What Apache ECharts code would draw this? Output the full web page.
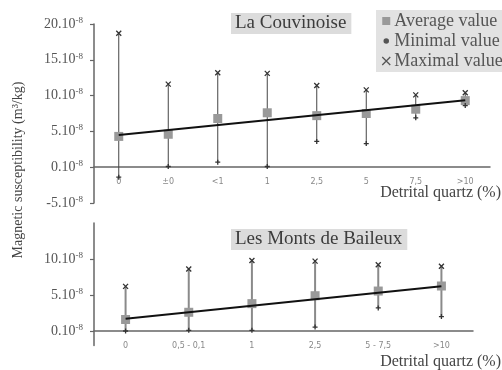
<!DOCTYPE html>
<html><head><meta charset="utf-8">
<script src="https://cdn.jsdelivr.net/npm/echarts@6/dist/echarts.min.js"></script>
<style>html,body{margin:0;padding:0;background:#fff}#c{width:502px;height:370px}</style>
</head><body><div id="c"></div>
<script>
// ---- Data (values in units of 10^-8 m3/kg) ----
const topCategories = ['0', '±0', '<1', '1', '2,5', '5', '7,5', '>10'];
const topAverage = [4.3, 4.6, 6.8, 7.6, 7.2, 7.5, 8.1, 9.3];
const topMinimal = [-1.4, 0.1, 0.7, 0.1, 3.6, 3.3, 6.9, 8.6];
const topMaximal = [18.7, 11.6, 13.2, 13.1, 11.4, 10.8, 10.1, 10.4];
const topTrend = [[0, 4.5], [7, 9.35]];

const botCategories = ['0', '0,5 - 0,1', '1', '2,5', '5 - 7,5', '>10'];
const botAverage = [1.6, 2.6, 3.8, 4.9, 5.55, 6.25];
const botMinimal = [0.0, 0.1, 0.1, 0.55, 3.2, 2.0];
const botMaximal = [6.2, 8.6, 9.8, 9.7, 9.2, 9.0];
const botTrend = [[0, 1.7], [5, 6.2]];

const topTicks = [-5, 0, 5, 10, 15, 20];
const botTicks = [0, 5, 10];

const titles = ['La Couvinoise', 'Les Monts de Baileux'];
const xName = 'Detrital quartz (%)';
const yName = 'Magnetic susceptibility (m³/kg)';
const legendNames = ['Average value', 'Minimal value', 'Maximal value'];

// ---- Chart ----
const SERIF = 'Liberation Serif';
const chart = echarts.init(document.getElementById('c'));
const crossPath = 'path://M0,0L10,10M10,0L0,10';
const plusPath = 'path://M0,5L10,5M5,0L5,10';

function yLabelFmt(v) { return '{a|' + v + '.10}{b|-8}'; }
const yRich = {
  a: { fontFamily: SERIF, fontSize: 14, color: '#555', lineHeight: 16 },
  b: { fontFamily: SERIF, fontSize: 9, color: '#555', lineHeight: 9, verticalAlign: 'top' }
};

function errData(mins, maxs) { return mins.map((m, i) => [i, m, maxs[i]]); }
function errSeries(idx, mins, maxs, color, width) {
  return {
    type: 'custom', xAxisIndex: idx, yAxisIndex: idx, z: 2,
    data: errData(mins, maxs),
    renderItem: function (params, api) {
      const p1 = api.coord([api.value(0), api.value(1)]);
      const p2 = api.coord([api.value(0), api.value(2)]);
      return { type: 'line', shape: { x1: p1[0], y1: p1[1], x2: p2[0], y2: p2[1] },
        style: { stroke: color, lineWidth: width } };
    }
  };
}

const xLabel = { fontFamily: 'DejaVu Sans', fontSize: 8, color: '#888', margin: 11 };

const option = {
  animation: false,
  backgroundColor: '#fff',
  title: [
    { text: titles[0], left: 231, top: 13, padding: [1, 5, 1, 4], backgroundColor: '#dcdcdc',
      textStyle: { fontFamily: SERIF, fontSize: 19, fontWeight: 'normal', color: '#3c3c3c' } },
    { text: titles[1], left: 231, top: 229, padding: [1, 5, 1, 4], backgroundColor: '#dcdcdc',
      textStyle: { fontFamily: SERIF, fontSize: 19, fontWeight: 'normal', color: '#3c3c3c' } }
  ],
  legend: {
    left: 376, top: 10, orient: 'vertical', itemGap: 2, itemWidth: 8, itemHeight: 8,
    backgroundColor: '#e2e2e2', padding: [2, 6, 2, 5], borderRadius: 0,
    textStyle: { fontFamily: SERIF, fontSize: 18, color: '#555', lineHeight: 18, padding: [0, 0, 0, -1] },
    data: [
      { name: legendNames[0], icon: 'rect', itemStyle: { color: '#999' } },
      { name: legendNames[1], icon: 'circle', itemStyle: { color: '#555', borderColor: '#e2e2e2', borderWidth: 2.5 } },
      { name: legendNames[2], icon: crossPath, itemStyle: { color: 'transparent', borderColor: '#555', borderWidth: 1.3 } }
    ]
  },
  graphic: [
    { type: 'text', x: 18, y: 170, rotation: Math.PI / 2,
      style: { text: yName, font: '14px "Liberation Serif"', fill: '#444', align: 'center', verticalAlign: 'middle' } },
    { type: 'text', x: 501, y: 193,
      style: { text: xName, font: '16px "Liberation Serif"', fill: '#444', align: 'right', verticalAlign: 'middle' } },
    { type: 'text', x: 501, y: 362,
      style: { text: xName, font: '16px "Liberation Serif"', fill: '#444', align: 'right', verticalAlign: 'middle' } }
  ],
  grid: [
    { left: 94, right: 12, top: 24, bottom: 167 },
    { left: 94, right: 29, top: 223, bottom: 24.6 }
  ],
  xAxis: [
    { type: 'category', gridIndex: 0, data: topCategories, boundaryGap: true, offset: -35.8,
      axisLine: { onZero: false, lineStyle: { color: '#666', width: 1.5 } },
      axisTick: { show: false }, axisLabel: xLabel, splitLine: { show: false } },
    { type: 'category', gridIndex: 1, data: botCategories, boundaryGap: true, offset: -14.4,
      axisLine: { onZero: false, lineStyle: { color: '#666', width: 1.5 } },
      axisTick: { show: false }, axisLabel: xLabel, splitLine: { show: false } }
  ],
  yAxis: [
    { type: 'value', gridIndex: 0, min: -5, max: 20, interval: 5,
      axisLine: { show: true, lineStyle: { color: '#666', width: 1.5 } },
      axisTick: { show: true, length: 4, lineStyle: { color: '#666', width: 1.2 }, customValues: topTicks },
      axisLabel: { formatter: yLabelFmt, rich: yRich, margin: 11, customValues: topTicks },
      splitLine: { show: false } },
    { type: 'value', gridIndex: 1, min: -2, max: 15,
      axisLine: { show: true, lineStyle: { color: '#666', width: 1.5 } },
      axisTick: { show: true, length: 4, lineStyle: { color: '#666', width: 1.2 }, customValues: botTicks },
      axisLabel: { formatter: yLabelFmt, rich: yRich, margin: 11, customValues: botTicks },
      splitLine: { show: false } }
  ],
  series: [
    errSeries(0, topMinimal, topMaximal, '#444', 1),
    errSeries(1, botMinimal, botMaximal, '#8a8a8a', 2),
    { name: legendNames[0], type: 'scatter', xAxisIndex: 0, yAxisIndex: 0, symbol: 'rect', symbolSize: 9, z: 3,
      itemStyle: { color: '#999', opacity: 1 }, data: topAverage.map((v, i) => [i, v]) },
    { name: legendNames[0], type: 'scatter', xAxisIndex: 1, yAxisIndex: 1, symbol: 'rect', symbolSize: 9, z: 3,
      itemStyle: { color: '#999', opacity: 1 }, data: botAverage.map((v, i) => [i, v]) },
    { name: legendNames[1], type: 'scatter', xAxisIndex: 0, yAxisIndex: 0, symbol: plusPath, symbolSize: 5, z: 4,
      itemStyle: { color: 'transparent', borderColor: '#333', borderWidth: 1.3, opacity: 1 }, data: topMinimal.map((v, i) => [i, v]) },
    { name: legendNames[1], type: 'scatter', xAxisIndex: 1, yAxisIndex: 1, symbol: plusPath, symbolSize: 5, z: 4,
      itemStyle: { color: 'transparent', borderColor: '#333', borderWidth: 1.3, opacity: 1 }, data: botMinimal.map((v, i) => [i, v]) },
    { name: legendNames[2], type: 'scatter', xAxisIndex: 0, yAxisIndex: 0, symbol: crossPath, symbolSize: 5, z: 4,
      itemStyle: { color: 'transparent', borderColor: '#333', borderWidth: 1.3, opacity: 1 }, data: topMaximal.map((v, i) => [i, v]) },
    { name: legendNames[2], type: 'scatter', xAxisIndex: 1, yAxisIndex: 1, symbol: crossPath, symbolSize: 5, z: 4,
      itemStyle: { color: 'transparent', borderColor: '#333', borderWidth: 1.3, opacity: 1 }, data: botMaximal.map((v, i) => [i, v]) },
    { type: 'line', xAxisIndex: 0, yAxisIndex: 0, data: topTrend, symbol: 'none', z: 5,
      lineStyle: { color: '#111', width: 2 } },
    { type: 'line', xAxisIndex: 1, yAxisIndex: 1, data: botTrend, symbol: 'none', z: 5,
      lineStyle: { color: '#111', width: 2 } }
  ]
};
chart.setOption(option);
</script></body></html>
